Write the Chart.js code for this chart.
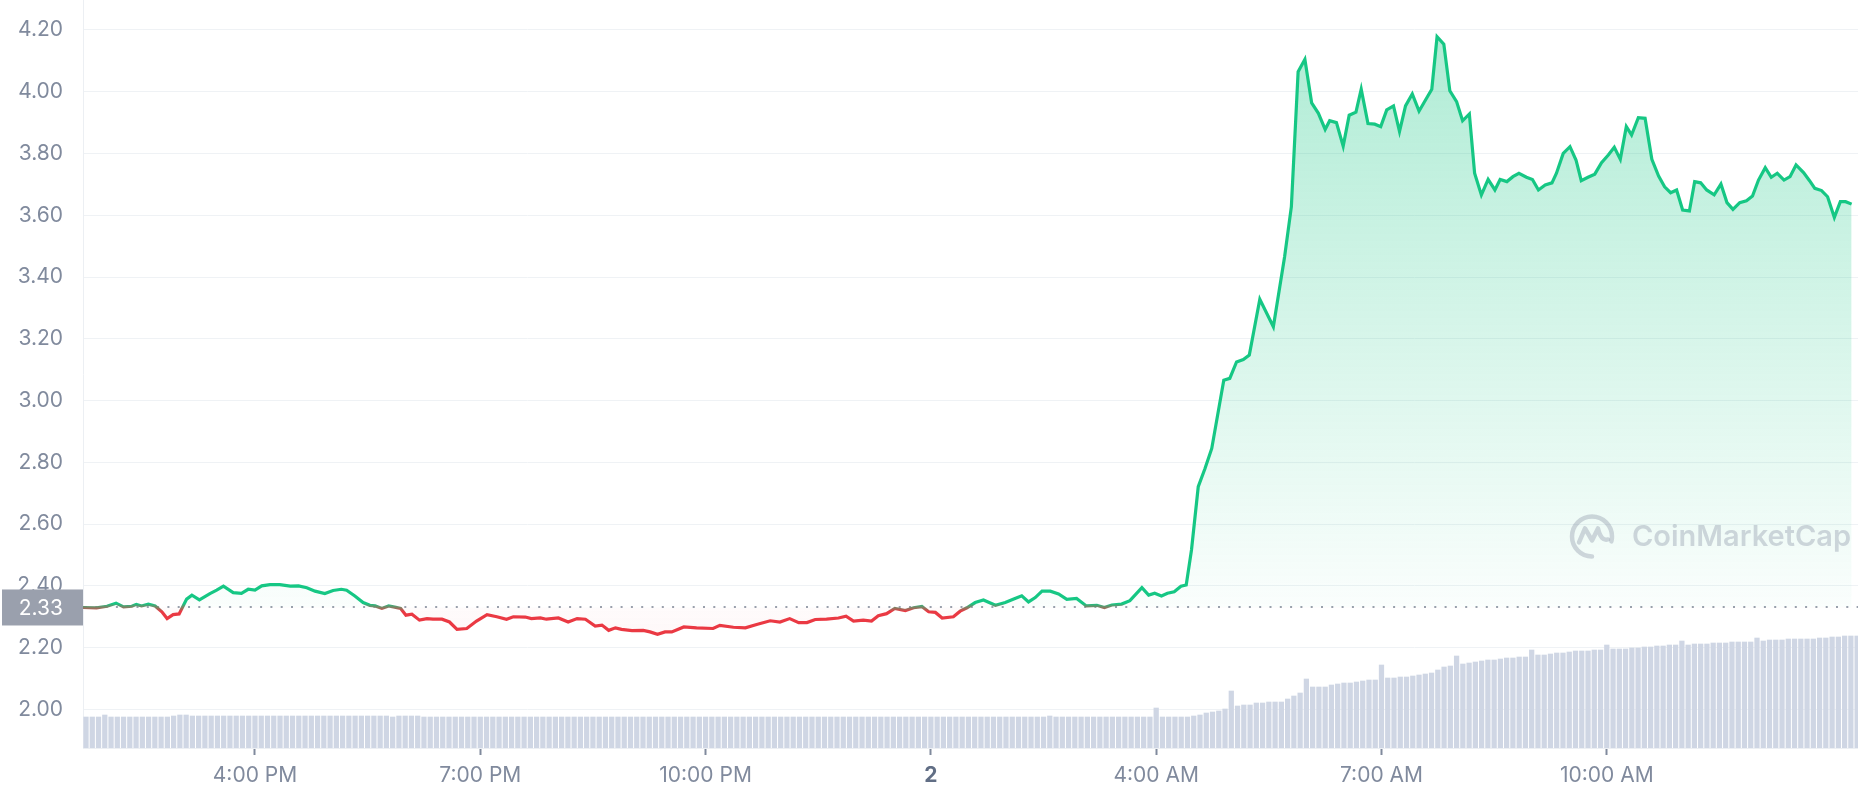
<!DOCTYPE html>
<html>
<head>
<meta charset="utf-8">
<script src="https://cdn.jsdelivr.net/npm/chart.js@4.4.0/dist/chart.umd.min.js"></script>
<style>
  html, body { margin: 0; padding: 0; background: #fff; }
  #wrap { width: 1858px; height: 800px; position: relative; }
</style>
</head>
<body>
<div id="wrap"><canvas id="priceChart"></canvas></div>
<script>
// time axis is in hours counted from midnight of the first day
var priceTimes = [
    13.71, 13.89, 14.03, 14.15, 14.25, 14.36, 14.42, 14.49, 14.58, 14.67,
    14.76, 14.83, 14.91, 14.99, 15.09, 15.16, 15.26, 15.40, 15.49, 15.58,
    15.71, 15.82, 15.91, 16.00, 16.09, 16.20, 16.33, 16.47, 16.58, 16.69,
    16.80, 16.93, 17.04, 17.15, 17.22, 17.33, 17.44, 17.53, 17.60, 17.69,
    17.78, 17.86, 17.94, 18.01, 18.09, 18.19, 18.29, 18.37, 18.49, 18.59,
    18.69, 18.82, 18.95, 19.09, 19.22, 19.35, 19.44, 19.60, 19.68, 19.80,
    19.88, 20.04, 20.17, 20.29, 20.40, 20.53, 20.62, 20.71, 20.80, 20.88,
    21.02, 21.17, 21.26, 21.36, 21.46, 21.55, 21.71, 21.88, 22.10, 22.19,
    22.37, 22.53, 22.68, 22.86, 22.99, 23.12, 23.24, 23.35, 23.46, 23.61,
    23.77, 23.87, 23.97, 24.10, 24.21, 24.30, 24.41, 24.52, 24.66, 24.77,
    24.88, 24.97, 25.06, 25.15, 25.30, 25.39, 25.48, 25.59, 25.70, 25.86,
    25.99, 26.12, 26.21, 26.30, 26.39, 26.48, 26.59, 26.70, 26.81, 26.94,
    27.07, 27.21, 27.31, 27.41, 27.54, 27.65, 27.81, 27.90, 27.98, 28.07,
    28.15, 28.24, 28.33, 28.40, 28.47, 28.56, 28.65, 28.74, 28.90, 28.98,
    29.07, 29.16, 29.24, 29.38, 29.56, 29.71, 29.80, 29.89, 29.98, 30.07,
    30.16, 30.25, 30.31, 30.40, 30.49, 30.57, 30.66, 30.73, 30.82, 30.91,
    30.99, 31.07, 31.16, 31.24, 31.32, 31.41, 31.50, 31.59, 31.67, 31.74,
    31.83, 31.91, 32.00, 32.08, 32.17, 32.24, 32.33, 32.42, 32.51, 32.58,
    32.67, 32.75, 32.83, 32.93, 33.01, 33.09, 33.18, 33.27, 33.33, 33.42,
    33.51, 33.59, 33.66, 33.75, 33.84, 33.93, 34.02, 34.10, 34.18, 34.26,
    34.33, 34.42, 34.51, 34.60, 34.69, 34.77, 34.85, 34.93, 35.01, 35.10,
    35.17, 35.25, 35.33, 35.43, 35.52, 35.60, 35.68, 35.77, 35.86, 35.94,
    36.02, 36.11, 36.19, 36.27, 36.36, 36.44, 36.52, 36.62, 36.70, 36.77,
    36.86, 36.94, 37.03, 37.11, 37.18, 37.26
];

var prices = [
    2.330, 2.329, 2.334, 2.344, 2.332, 2.334, 2.340, 2.335, 2.341, 2.335,
    2.316, 2.294, 2.307, 2.309, 2.357, 2.370, 2.355, 2.375, 2.386, 2.399,
    2.378, 2.376, 2.389, 2.386, 2.400, 2.404, 2.404, 2.399, 2.400, 2.394,
    2.383, 2.375, 2.385, 2.389, 2.386, 2.367, 2.346, 2.337, 2.335, 2.327,
    2.335, 2.331, 2.327, 2.305, 2.308, 2.289, 2.294, 2.292, 2.292, 2.283,
    2.259, 2.262, 2.286, 2.307, 2.300, 2.292, 2.300, 2.299, 2.294, 2.296,
    2.292, 2.296, 2.283, 2.294, 2.292, 2.270, 2.273, 2.256, 2.264, 2.259,
    2.255, 2.256, 2.251, 2.243, 2.251, 2.251, 2.267, 2.264, 2.262, 2.272,
    2.266, 2.264, 2.275, 2.287, 2.283, 2.294, 2.281, 2.281, 2.291, 2.292,
    2.296, 2.302, 2.286, 2.289, 2.286, 2.303, 2.310, 2.327, 2.320, 2.329,
    2.333, 2.316, 2.314, 2.296, 2.300, 2.318, 2.329, 2.346, 2.354, 2.337,
    2.346, 2.359, 2.368, 2.348, 2.362, 2.383, 2.383, 2.374, 2.356, 2.359,
    2.335, 2.337, 2.330, 2.338, 2.341, 2.352, 2.394, 2.370, 2.376, 2.367,
    2.376, 2.381, 2.399, 2.403, 2.516, 2.721, 2.780, 2.845, 3.066, 3.072,
    3.125, 3.133, 3.147, 3.328, 3.239, 3.466, 3.628, 4.065, 4.105, 3.964,
    3.930, 3.878, 3.906, 3.900, 3.824, 3.924, 3.934, 4.008, 3.897, 3.895,
    3.887, 3.941, 3.954, 3.871, 3.954, 3.993, 3.937, 3.975, 4.008, 4.178,
    4.154, 4.003, 3.968, 3.906, 3.928, 3.736, 3.666, 3.716, 3.682, 3.716,
    3.709, 3.725, 3.736, 3.723, 3.716, 3.682, 3.698, 3.705, 3.736, 3.800,
    3.822, 3.779, 3.712, 3.723, 3.733, 3.770, 3.795, 3.820, 3.781, 3.887,
    3.860, 3.916, 3.914, 3.781, 3.727, 3.692, 3.673, 3.682, 3.617, 3.614,
    3.709, 3.705, 3.682, 3.666, 3.701, 3.641, 3.619, 3.641, 3.647, 3.662,
    3.714, 3.754, 3.723, 3.736, 3.714, 3.725, 3.763, 3.738, 3.712, 3.687,
    3.680, 3.660, 3.593, 3.644, 3.644, 3.636
];

// 5 minute volume bars, first bar at 13:45 (relative units)
var volStart = 13.75;
var volumes = [
    31, 31, 31,
    33, 31, 31, 31, 31, 31, 31, 31, 31, 31, 31, 32,
    33, 33, 32, 32, 32, 32, 32, 32, 32, 32, 32, 32,
    32, 32, 32, 32, 32, 32, 32, 32, 32, 32, 32, 32,
    32, 32, 32, 32, 32, 32, 32, 32, 32, 32, 31, 32,
    32, 32, 32, 31, 31, 31, 31, 31, 31, 31, 31, 31,
    31, 31, 31, 31, 31, 31, 31, 31, 31, 31, 31, 31,
    31, 31, 31, 31, 31, 31, 31, 31, 31, 31, 31, 31,
    31, 31, 31, 31, 31, 31, 31, 31, 31, 31, 31, 31,
    31, 31, 31, 31, 31, 31, 31, 31, 31, 31, 31, 31,
    31, 31, 31, 31, 31, 31, 31, 31, 31, 31, 31, 31,
    31, 31, 31, 31, 31, 31, 31, 31, 31, 31, 31, 31,
    31, 31, 31, 31, 31, 31, 31, 31, 31, 31, 31, 31,
    31, 31, 31, 31, 31, 31, 31, 32, 31, 31, 31, 31,
    31, 31, 31, 31, 31, 31, 31, 31, 31, 31, 31, 31,
    40, 31, 31, 31, 31, 31, 32, 33, 35, 36, 37, 39,
    57, 42, 43, 43, 45, 45, 46, 46, 46, 49, 52, 55,
    69, 61, 61, 61, 63, 64, 65, 65, 66, 67, 68, 68,
    83, 70, 70, 71, 71, 72, 73, 74, 75, 78, 81, 82,
    92, 84, 85, 86, 87, 88, 88, 89, 90, 90, 91, 91,
    98, 93, 93, 94, 95, 95, 96, 97, 97, 97, 98, 98,
    103, 99, 99, 99, 100, 100, 101, 101, 102, 102, 103, 103,
    107, 103, 104, 104, 104, 105, 105, 105, 106, 106, 106, 106,
    110, 107, 108, 108, 108, 109, 109, 109, 109, 109, 110, 110,
    111, 111, 112, 112, 112
];

var openPrice = 2.33;
var priceTicks = [2.00, 2.20, 2.40, 2.60, 2.80, 3.00, 3.20, 3.40, 3.60, 3.80, 4.00, 4.20];
var tickHours = [16, 19, 22, 25, 28, 31, 34];
var tickLabels = ["4:00 PM", "7:00 PM", "10:00 PM", "2", "4:00 AM", "7:00 AM", "10:00 AM"];

var GREEN = "#16c784";
var RED = "#ea3943";
var GREY = "#808a9d";

var pricePoints = priceTimes.map(function (t, i) { return { x: t, y: prices[i] }; });
var volPoints = volumes.map(function (v, i) { return { x: volStart + i / 12, y: v }; });

// green above the opening price, red under it
function lineGradient(c) {
    var chart = c.chart, area = chart.chartArea;
    if (!area) return GREEN;
    var y0 = chart.scales.y.getPixelForValue(openPrice);
    var h = area.bottom - area.top;
    var f = (y0 - area.top) / h;
    var g = chart.ctx.createLinearGradient(0, area.top, 0, area.bottom);
    g.addColorStop(0, GREEN);
    g.addColorStop(Math.max(0, f - 4 / h), GREEN);
    g.addColorStop(Math.min(1, f + 4 / h), RED);
    g.addColorStop(1, RED);
    return g;
}

function fillGradient(c) {
    var chart = c.chart, area = chart.chartArea;
    if (!area) return "rgba(22,199,132,0.1)";
    var y0 = chart.scales.y.getPixelForValue(openPrice);
    var f = (y0 - area.top) / (area.bottom - area.top);
    var g = chart.ctx.createLinearGradient(0, area.top, 0, area.bottom);
    g.addColorStop(0, "rgba(22,199,132,0.36)");
    g.addColorStop(f, "rgba(22,199,132,0.02)");
    g.addColorStop(f, "rgba(234,57,67,0.02)");
    g.addColorStop(1, "rgba(234,57,67,0.10)");
    return g;
}

// dotted opening price line and the grey price tag on the axis
var openLine = {
    id: "openLine",
    beforeDatasetsDraw: function (chart) {
        var ctx = chart.ctx, area = chart.chartArea;
        var y = Math.round(chart.scales.y.getPixelForValue(openPrice));
        ctx.save();
        ctx.strokeStyle = "#9aa1ad";
        ctx.lineWidth = 2;
        ctx.setLineDash([2, 8.3]);
        ctx.beginPath();
        ctx.moveTo(area.left + 2, y);
        ctx.lineTo(area.right, y);
        ctx.stroke();
        ctx.restore();
    },
    afterDraw: function (chart) {
        var ctx = chart.ctx, area = chart.chartArea;
        var y = chart.scales.y.getPixelForValue(openPrice);
        ctx.save();
        ctx.fillStyle = "#9aa0ad";
        ctx.fillRect(2, y - 18, area.left - 2, 36);
        ctx.fillStyle = "#ffffff";
        ctx.font = "21px Inter";
        ctx.textAlign = "right";
        ctx.textBaseline = "middle";
        ctx.fillText(openPrice.toFixed(2), area.left - 20, y + 1);
        ctx.restore();
    }
};

var watermark = {
    id: "watermark",
    afterDatasetsDraw: function (chart) {
        var ctx = chart.ctx, area = chart.chartArea;
        var cy = chart.scales.y.getPixelForValue(2.56);
        var cx = area.right - 266;
        ctx.save();
        ctx.strokeStyle = "rgba(128,138,157,0.34)";
        ctx.fillStyle = "rgba(128,138,157,0.34)";
        ctx.lineWidth = 4.5;
        ctx.lineCap = "round";
        ctx.lineJoin = "round";
        ctx.beginPath();
        ctx.arc(cx, cy, 20, 0.5 * Math.PI, 2.08 * Math.PI);
        ctx.stroke();
        ctx.beginPath();
        ctx.moveTo(cx - 13, cy + 6);
        ctx.lineTo(cx - 7, cy - 8);
        ctx.lineTo(cx, cy + 4);
        ctx.lineTo(cx + 6, cy - 8);
        ctx.quadraticCurveTo(cx + 9, cy + 5, cx + 16, cy + 3);
        ctx.stroke();
        ctx.font = "600 29px Inter";
        ctx.textAlign = "left";
        ctx.textBaseline = "middle";
        ctx.fillText("CoinMarketCap", cx + 40, cy + 1);
        ctx.restore();
    }
};

new Chart(document.getElementById("priceChart"), {
    type: "line",
    data: {
        datasets: [
            {
                type: "line",
                label: "Price",
                data: pricePoints,
                borderColor: lineGradient,
                backgroundColor: fillGradient,
                borderWidth: 3.2,
                pointRadius: 0,
                tension: 0,
                fill: { value: openPrice },
                yAxisID: "y",
                order: 1
            },
            {
                type: "bar",
                label: "Volume",
                data: volPoints,
                backgroundColor: "#cfd6e4",
                barThickness: 4.6,
                yAxisID: "yVol",
                order: 2
            }
        ]
    },
    options: {
        responsive: true,
        maintainAspectRatio: false,
        animation: false,
        layout: { padding: 0 },
        plugins: {
            legend: { display: false },
            tooltip: { enabled: false }
        },
        scales: {
            x: {
                type: "linear",
                min: 13.71,
                max: 37.345,
                offset: false,
                afterBuildTicks: function (s) {
                    s.ticks = tickHours.map(function (v) { return { value: v }; });
                },
                afterFit: function (s) {
                    s.height = 52;
                    s.paddingLeft = 0;
                    s.paddingRight = 0;
                },
                grid: {
                    offset: false,
                    drawOnChartArea: false,
                    drawTicks: true,
                    tickLength: 7,
                    tickWidth: 2,
                    tickColor: GREY
                },
                border: { color: "#eceff3", width: 1 },
                ticks: {
                    autoSkip: false,
                    maxRotation: 0,
                    padding: 8,
                    color: function (c) { return c.index === 3 ? "#616e85" : GREY; },
                    font: function (c) {
                        return { family: "Inter", size: 21, weight: c.index === 3 ? "bold" : "normal" };
                    },
                    callback: function (v, i) { return tickLabels[i]; }
                }
            },
            y: {
                position: "left",
                min: 1.875,
                max: 4.297,
                afterBuildTicks: function (s) {
                    s.ticks = priceTicks.map(function (v) { return { value: v }; });
                },
                afterFit: function (s) {
                    s.width = 83;
                    s.paddingTop = 0;
                    s.paddingBottom = 0;
                },
                grid: { color: "#eff2f5", drawTicks: false },
                border: { color: "#eceff3", width: 1 },
                ticks: {
                    padding: 20,
                    color: GREY,
                    font: { family: "Inter", size: 21 },
                    callback: function (v) { return v.toFixed(2); }
                }
            },
            yVol: {
                display: false,
                min: 0,
                max: 748
            }
        }
    },
    plugins: [openLine, watermark]
});
</script>
</body>
</html>
